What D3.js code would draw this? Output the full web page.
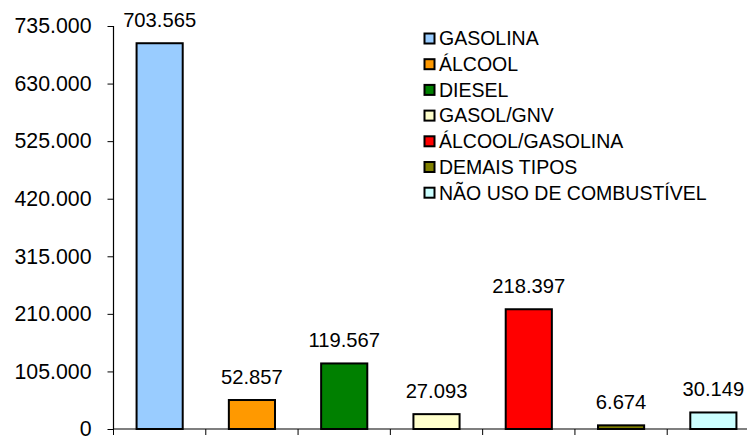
<!DOCTYPE html>
<html>
<head>
<meta charset="utf-8">
<script src="https://cdn.jsdelivr.net/npm/d3@7"></script>
<style>
  body { margin: 0; background: #fff; }
  svg { display: block; font-family: "Liberation Sans", Arial, sans-serif; }
</style>
</head>
<body>
<div id="chart"></div>
<script>
// dados
const categories = ['GASOLINA', 'ÁLCOOL', 'DIESEL', 'GASOL/GNV', 'ÁLCOOL/GASOLINA', 'DEMAIS TIPOS', 'NÃO USO DE COMBUSTÍVEL'];
const values = [703565, 52857, 119567, 27093, 218397, 6674, 30149];
const colors = ['#99ccff', '#ff9900', '#008000', '#ffffcc', '#ff0000', '#808000', '#ccffff'];
const yTicks = [0, 105000, 210000, 315000, 420000, 525000, 630000, 735000];

const width = 747, height = 436;
const margin = { left: 113.5, top: 26, bottom: 7 };
const plotRight = 759.5;

const fmt = d => d === 0 ? '0' : d3.format(',')(d).replace(/,/g, '.');

const svg = d3.select('#chart').append('svg')
    .attr('width', width)
    .attr('height', height);

const x = d3.scaleBand()
    .domain(categories)
    .range([margin.left, plotRight])
    .paddingInner(0.5)
    .paddingOuter(0.25);

const y = d3.scaleLinear()
    .domain([0, 735000])
    .range([height - margin.bottom, margin.top]);

// eixo Y
const yAxis = svg.append('g')
    .attr('transform', `translate(${margin.left},0)`)
    .call(d3.axisLeft(y).tickValues(yTicks).tickFormat(fmt).tickSize(6).tickPadding(16));
yAxis.select('.domain').attr('stroke', '#000').attr('stroke-width', 1.2)
    .attr('d', `M0,${y(0)}V${y(735000)}`);
yAxis.selectAll('.tick line').attr('stroke', '#000');
yAxis.selectAll('.tick text')
    .attr('fill', '#000')
    .style('font-size', '21.3px')
    .style('font-family', '"Liberation Sans", Arial, sans-serif');

// eixo X (apenas marcas entre categorias)
const xg = svg.append('g');
xg.append('line')
    .attr('x1', margin.left).attr('x2', plotRight)
    .attr('y1', y(0)).attr('y2', y(0))
    .attr('stroke', '#000').attr('stroke-width', 1.2);
const step = x.step();
d3.range(categories.length + 1).forEach(i => {
    const xx = margin.left + i * step;
    xg.append('line')
        .attr('x1', xx).attr('x2', xx)
        .attr('y1', y(0)).attr('y2', y(0) + 6)
        .attr('stroke', '#000');
});

// barras
svg.selectAll('.bar')
    .data(values)
    .enter()
    .append('rect')
    .attr('class', 'bar')
    .attr('x', (d, i) => x(categories[i]))
    .attr('y', d => y(d))
    .attr('width', x.bandwidth())
    .attr('height', d => y(0) - y(d))
    .attr('fill', (d, i) => colors[i])
    .attr('stroke', '#000')
    .attr('stroke-width', 2);

// rótulos
svg.selectAll('.label')
    .data(values)
    .enter()
    .append('text')
    .attr('class', 'label')
    .attr('x', (d, i) => x(categories[i]) + x.bandwidth() / 2)
    .attr('y', d => y(d) - 16.5)
    .attr('text-anchor', 'middle')
    .style('font-size', '20.2px')
    .text(d => fmt(d));

// legenda
const legend = svg.append('g').attr('transform', 'translate(424,38.5)');
categories.forEach((c, i) => {
    const row = legend.append('g').attr('transform', `translate(0,${i * 25.7})`);
    row.append('rect')
        .attr('x', 0.5).attr('y', -5)
        .attr('width', 10).attr('height', 10)
        .attr('fill', colors[i])
        .attr('stroke', '#000')
        .attr('stroke-width', 2);
    row.append('text')
        .attr('x', 15)
        .attr('y', 0)
        .attr('dy', '0.35em')
        .style('font-size', '19.5px')
        .text(c);
});
</script>
</body>
</html>
